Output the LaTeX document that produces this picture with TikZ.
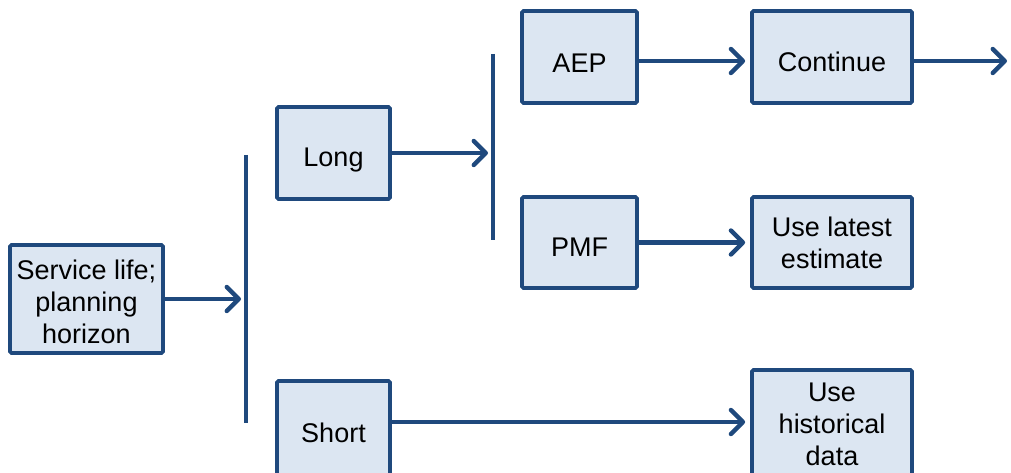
\documentclass[tikz,border=0pt]{standalone}
\usepackage{fontspec}
\setmainfont{Liberation Sans}
\usetikzlibrary{arrows.meta}
\definecolor{edge}{RGB}{31,73,125}
\definecolor{boxfill}{RGB}{220,230,242}
\begin{document}
\begin{tikzpicture}[x=1pt,y=-1pt,
  box/.style={draw=edge,fill=boxfill,line width=3.8pt,rounded corners=1.5pt,inner sep=0pt},
  txt/.style={font=\fontsize{27}{32}\selectfont,text=black,align=center,inner sep=0pt},
  one/.style={txt,text height=19.3pt,text depth=0pt},
  conn/.style={draw=edge,line width=4.2pt,-{Straight Barb[length=12pt,width=24pt,line width=4.4pt,round]}},
  bar/.style={draw=edge,line width=4.6pt}]
\useasboundingbox (0,0) rectangle (1011,473);
\clip (0,0) rectangle (1011,473);
% boxes
\node[box,minimum width=153pt,minimum height=108pt] (svc) at (86.5,299) {};
\node[box,minimum width=113pt,minimum height=92pt] (long) at (333.5,153) {};
\node[box,minimum width=113pt,minimum height=110pt] (short) at (333.5,436) {};
\node[box,minimum width=115pt,minimum height=92pt] (aep) at (579.5,57) {};
\node[box,minimum width=115pt,minimum height=91pt] (pmf) at (579.5,242.5) {};
\node[box,minimum width=160pt,minimum height=92pt] (cont) at (832,57) {};
\node[box,minimum width=160pt,minimum height=91pt] (latest) at (832,242.5) {};
\node[box,minimum width=160pt,minimum height=120pt] (hist) at (832,430) {};
% texts
\node[txt] (svct) at (86.5,302) {Service life;\\planning\\horizon};
\node[one] (longt) at (333.5,157) {Long};
\node[one] (shortt) at (333.5,433) {Short};
\node[one] (aept) at (579.5,63) {AEP};
\node[one] (pmft) at (579.5,247) {PMF};
\node[one] (contt) at (832,62) {Continue};
\node[txt] (latestt) at (832,242.5) {Use latest\\estimate};
\node[txt] (histt) at (832,424) {Use\\historical\\data};
% bars
\coordinate (b1top) at (246,155);
\coordinate (b1bot) at (246,423);
\coordinate (b2top) at (493,54);
\coordinate (b2bot) at (493,240);
\coordinate (outend) at (1007,61);
\draw[bar] (b1top) -- (b1bot);
\draw[bar] (b2top) -- (b2bot);
% connectors
\draw[conn] (svc.east) -- ([xshift=-5pt]svc.east -| b1top);
\draw[conn] (long.east) -- ([xshift=-5pt]long.east -| b2top);
\draw[conn] ([yshift=-4pt]aep.east) -- ([xshift=-5pt,yshift=-4pt]cont.west);
\draw[conn] (pmf.east) -- ([xshift=-5pt]pmf.east -| latest.west);
\draw[conn] ([yshift=-4pt]cont.east) -- ([yshift=-4pt]cont.east -| outend);
\draw[conn] (short.east |- 0,422) -- ([xshift=-5pt]hist.west |- 0,422);
\end{tikzpicture}
\end{document}
